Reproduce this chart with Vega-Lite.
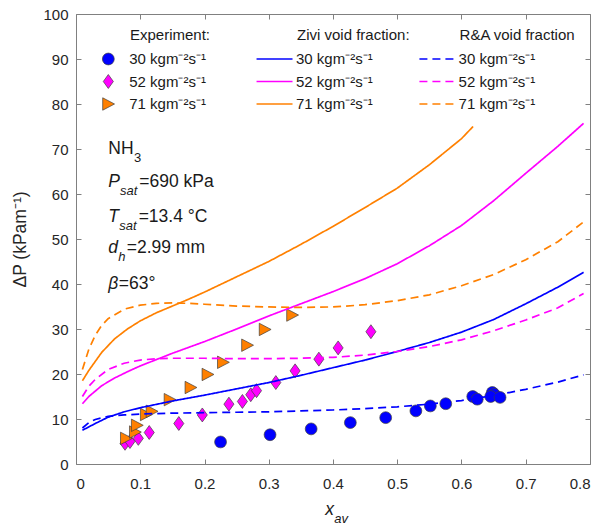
{
  "$schema": "https://vega.github.io/schema/vega-lite/v6.json",
  "width": 514,
  "height": 450,
  "autosize": {"type": "none"},
  "padding": {"left": 76, "top": 14, "right": 15, "bottom": 62},
  "background": "white",
  "config": {
    "font": "Liberation Sans",
    "view": {"stroke": "#808080", "strokeWidth": 1},
    "axis": {
      "domain": false, "grid": false, "tickColor": "#808080", "tickSize": -5, "tickWidth": 1,
      "labelColor": "#262626", "labelFontSize": 15, "labelFont": "Liberation Sans",
      "titleFont": "Liberation Sans", "titleFontSize": 17.5, "titleFontWeight": "normal", "titleColor": "#262626"
    }
  },
  "datasets": {
    "exp": [
      {"x": 0.225, "y": 4.9, "G": "30"}, {"x": 0.302, "y": 6.5, "G": "30"}, {"x": 0.366, "y": 7.8, "G": "30"},
      {"x": 0.427, "y": 9.2, "G": "30"}, {"x": 0.482, "y": 10.3, "G": "30"}, {"x": 0.529, "y": 11.8, "G": "30"},
      {"x": 0.5515, "y": 12.9, "G": "30"}, {"x": 0.5755, "y": 13.4, "G": "30"}, {"x": 0.6175, "y": 15.0, "G": "30"},
      {"x": 0.6245, "y": 14.4, "G": "30"}, {"x": 0.648, "y": 15.9, "G": "30"}, {"x": 0.651, "y": 15.5, "G": "30"},
      {"x": 0.6455, "y": 15.0, "G": "30"}, {"x": 0.66, "y": 14.8, "G": "30"},
      {"x": 0.0763, "y": 4.6, "G": "52"}, {"x": 0.084, "y": 5.0, "G": "52"}, {"x": 0.097, "y": 5.7, "G": "52"},
      {"x": 0.114, "y": 7.0, "G": "52"}, {"x": 0.160, "y": 9.0, "G": "52"}, {"x": 0.1966, "y": 10.9, "G": "52"},
      {"x": 0.238, "y": 13.3, "G": "52"}, {"x": 0.259, "y": 13.9, "G": "52"}, {"x": 0.272, "y": 15.4, "G": "52"},
      {"x": 0.281, "y": 16.3, "G": "52"}, {"x": 0.311, "y": 18.1, "G": "52"}, {"x": 0.341, "y": 20.7, "G": "52"},
      {"x": 0.378, "y": 23.3, "G": "52"}, {"x": 0.408, "y": 25.8, "G": "52"}, {"x": 0.459, "y": 29.4, "G": "52"},
      {"x": 0.078, "y": 5.7, "G": "71"}, {"x": 0.092, "y": 7.1, "G": "71"}, {"x": 0.095, "y": 8.6, "G": "71"},
      {"x": 0.109, "y": 11.0, "G": "71"}, {"x": 0.118, "y": 11.7, "G": "71"}, {"x": 0.146, "y": 14.3, "G": "71"},
      {"x": 0.1785, "y": 17.0, "G": "71"}, {"x": 0.205, "y": 19.9, "G": "71"}, {"x": 0.229, "y": 22.6, "G": "71"},
      {"x": 0.2666, "y": 26.4, "G": "71"}, {"x": 0.294, "y": 29.9, "G": "71"}, {"x": 0.3367, "y": 33.1, "G": "71"}
    ],
    "curves": [
      {"x": 0.01, "y": 7.5, "G": "30", "model": "Zivi"}, {"x": 0.03, "y": 9.0, "G": "30", "model": "Zivi"},
      {"x": 0.05, "y": 10.4, "G": "30", "model": "Zivi"}, {"x": 0.075, "y": 11.6, "G": "30", "model": "Zivi"},
      {"x": 0.1, "y": 12.5, "G": "30", "model": "Zivi"}, {"x": 0.15, "y": 14.0, "G": "30", "model": "Zivi"},
      {"x": 0.2, "y": 15.3, "G": "30", "model": "Zivi"}, {"x": 0.25, "y": 16.7, "G": "30", "model": "Zivi"},
      {"x": 0.3, "y": 18.1, "G": "30", "model": "Zivi"}, {"x": 0.35, "y": 19.7, "G": "30", "model": "Zivi"},
      {"x": 0.4, "y": 21.4, "G": "30", "model": "Zivi"}, {"x": 0.45, "y": 23.1, "G": "30", "model": "Zivi"},
      {"x": 0.5, "y": 25.0, "G": "30", "model": "Zivi"}, {"x": 0.55, "y": 27.0, "G": "30", "model": "Zivi"},
      {"x": 0.6, "y": 29.3, "G": "30", "model": "Zivi"}, {"x": 0.65, "y": 32.1, "G": "30", "model": "Zivi"},
      {"x": 0.7, "y": 35.6, "G": "30", "model": "Zivi"}, {"x": 0.75, "y": 39.3, "G": "30", "model": "Zivi"},
      {"x": 0.79, "y": 42.6, "G": "30", "model": "Zivi"},
      {"x": 0.01, "y": 13.4, "G": "52", "model": "Zivi"}, {"x": 0.02, "y": 15.0, "G": "52", "model": "Zivi"},
      {"x": 0.04, "y": 17.4, "G": "52", "model": "Zivi"}, {"x": 0.06, "y": 19.1, "G": "52", "model": "Zivi"},
      {"x": 0.08, "y": 20.5, "G": "52", "model": "Zivi"}, {"x": 0.1, "y": 21.8, "G": "52", "model": "Zivi"},
      {"x": 0.15, "y": 24.6, "G": "52", "model": "Zivi"}, {"x": 0.2, "y": 27.2, "G": "52", "model": "Zivi"},
      {"x": 0.25, "y": 30.0, "G": "52", "model": "Zivi"}, {"x": 0.3, "y": 32.9, "G": "52", "model": "Zivi"},
      {"x": 0.35, "y": 35.6, "G": "52", "model": "Zivi"}, {"x": 0.4, "y": 38.3, "G": "52", "model": "Zivi"},
      {"x": 0.45, "y": 41.2, "G": "52", "model": "Zivi"}, {"x": 0.5, "y": 44.5, "G": "52", "model": "Zivi"},
      {"x": 0.55, "y": 48.5, "G": "52", "model": "Zivi"}, {"x": 0.6, "y": 53.0, "G": "52", "model": "Zivi"},
      {"x": 0.65, "y": 58.5, "G": "52", "model": "Zivi"}, {"x": 0.7, "y": 64.6, "G": "52", "model": "Zivi"},
      {"x": 0.75, "y": 70.6, "G": "52", "model": "Zivi"}, {"x": 0.79, "y": 75.7, "G": "52", "model": "Zivi"},
      {"x": 0.01, "y": 18.5, "G": "71", "model": "Zivi"}, {"x": 0.02, "y": 20.8, "G": "71", "model": "Zivi"},
      {"x": 0.04, "y": 24.8, "G": "71", "model": "Zivi"}, {"x": 0.06, "y": 27.8, "G": "71", "model": "Zivi"},
      {"x": 0.08, "y": 30.0, "G": "71", "model": "Zivi"}, {"x": 0.1, "y": 31.8, "G": "71", "model": "Zivi"},
      {"x": 0.125, "y": 33.6, "G": "71", "model": "Zivi"}, {"x": 0.15, "y": 35.1, "G": "71", "model": "Zivi"},
      {"x": 0.175, "y": 36.6, "G": "71", "model": "Zivi"}, {"x": 0.2, "y": 38.2, "G": "71", "model": "Zivi"},
      {"x": 0.25, "y": 41.6, "G": "71", "model": "Zivi"}, {"x": 0.3, "y": 45.0, "G": "71", "model": "Zivi"},
      {"x": 0.35, "y": 48.8, "G": "71", "model": "Zivi"}, {"x": 0.4, "y": 52.8, "G": "71", "model": "Zivi"},
      {"x": 0.45, "y": 57.0, "G": "71", "model": "Zivi"}, {"x": 0.5, "y": 61.3, "G": "71", "model": "Zivi"},
      {"x": 0.55, "y": 66.5, "G": "71", "model": "Zivi"}, {"x": 0.6, "y": 72.3, "G": "71", "model": "Zivi"},
      {"x": 0.618, "y": 75.0, "G": "71", "model": "Zivi"},
      {"x": 0.01, "y": 8.0, "G": "30", "model": "RA"}, {"x": 0.02, "y": 9.2, "G": "30", "model": "RA"},
      {"x": 0.03, "y": 9.9, "G": "30", "model": "RA"}, {"x": 0.05, "y": 10.6, "G": "30", "model": "RA"},
      {"x": 0.075, "y": 10.9, "G": "30", "model": "RA"}, {"x": 0.1, "y": 11.1, "G": "30", "model": "RA"},
      {"x": 0.15, "y": 11.3, "G": "30", "model": "RA"}, {"x": 0.2, "y": 11.4, "G": "30", "model": "RA"},
      {"x": 0.25, "y": 11.5, "G": "30", "model": "RA"}, {"x": 0.3, "y": 11.6, "G": "30", "model": "RA"},
      {"x": 0.35, "y": 11.8, "G": "30", "model": "RA"}, {"x": 0.4, "y": 12.0, "G": "30", "model": "RA"},
      {"x": 0.45, "y": 12.3, "G": "30", "model": "RA"}, {"x": 0.5, "y": 12.7, "G": "30", "model": "RA"},
      {"x": 0.55, "y": 13.3, "G": "30", "model": "RA"}, {"x": 0.6, "y": 14.1, "G": "30", "model": "RA"},
      {"x": 0.65, "y": 15.2, "G": "30", "model": "RA"}, {"x": 0.7, "y": 16.6, "G": "30", "model": "RA"},
      {"x": 0.75, "y": 18.2, "G": "30", "model": "RA"}, {"x": 0.79, "y": 19.8, "G": "30", "model": "RA"},
      {"x": 0.01, "y": 15.0, "G": "52", "model": "RA"}, {"x": 0.02, "y": 17.3, "G": "52", "model": "RA"},
      {"x": 0.03, "y": 18.8, "G": "52", "model": "RA"}, {"x": 0.05, "y": 21.0, "G": "52", "model": "RA"},
      {"x": 0.075, "y": 22.4, "G": "52", "model": "RA"}, {"x": 0.1, "y": 23.1, "G": "52", "model": "RA"},
      {"x": 0.125, "y": 23.4, "G": "52", "model": "RA"}, {"x": 0.15, "y": 23.5, "G": "52", "model": "RA"},
      {"x": 0.2, "y": 23.5, "G": "52", "model": "RA"}, {"x": 0.25, "y": 23.4, "G": "52", "model": "RA"},
      {"x": 0.3, "y": 23.4, "G": "52", "model": "RA"}, {"x": 0.35, "y": 23.5, "G": "52", "model": "RA"},
      {"x": 0.4, "y": 23.7, "G": "52", "model": "RA"}, {"x": 0.45, "y": 24.2, "G": "52", "model": "RA"},
      {"x": 0.5, "y": 25.0, "G": "52", "model": "RA"}, {"x": 0.55, "y": 26.1, "G": "52", "model": "RA"},
      {"x": 0.6, "y": 27.6, "G": "52", "model": "RA"}, {"x": 0.65, "y": 29.6, "G": "52", "model": "RA"},
      {"x": 0.7, "y": 32.0, "G": "52", "model": "RA"}, {"x": 0.75, "y": 34.7, "G": "52", "model": "RA"},
      {"x": 0.79, "y": 37.9, "G": "52", "model": "RA"},
      {"x": 0.01, "y": 21.0, "G": "71", "model": "RA"}, {"x": 0.02, "y": 25.5, "G": "71", "model": "RA"},
      {"x": 0.03, "y": 28.6, "G": "71", "model": "RA"}, {"x": 0.04, "y": 30.8, "G": "71", "model": "RA"},
      {"x": 0.05, "y": 32.3, "G": "71", "model": "RA"}, {"x": 0.075, "y": 34.4, "G": "71", "model": "RA"},
      {"x": 0.1, "y": 35.3, "G": "71", "model": "RA"}, {"x": 0.125, "y": 35.7, "G": "71", "model": "RA"},
      {"x": 0.15, "y": 35.8, "G": "71", "model": "RA"}, {"x": 0.175, "y": 35.7, "G": "71", "model": "RA"},
      {"x": 0.2, "y": 35.5, "G": "71", "model": "RA"}, {"x": 0.25, "y": 35.1, "G": "71", "model": "RA"},
      {"x": 0.3, "y": 34.9, "G": "71", "model": "RA"}, {"x": 0.35, "y": 34.8, "G": "71", "model": "RA"},
      {"x": 0.4, "y": 34.9, "G": "71", "model": "RA"}, {"x": 0.45, "y": 35.4, "G": "71", "model": "RA"},
      {"x": 0.5, "y": 36.3, "G": "71", "model": "RA"}, {"x": 0.55, "y": 37.6, "G": "71", "model": "RA"},
      {"x": 0.6, "y": 39.6, "G": "71", "model": "RA"}, {"x": 0.65, "y": 42.1, "G": "71", "model": "RA"},
      {"x": 0.7, "y": 45.4, "G": "71", "model": "RA"}, {"x": 0.75, "y": 49.4, "G": "71", "model": "RA"},
      {"x": 0.79, "y": 53.8, "G": "71", "model": "RA"}
    ],
    "legLines": [
      {"x": 0.281, "y": 90, "G": "30", "model": "Zivi"}, {"x": 0.337, "y": 90, "G": "30", "model": "Zivi"},
      {"x": 0.281, "y": 85, "G": "52", "model": "Zivi"}, {"x": 0.337, "y": 85, "G": "52", "model": "Zivi"},
      {"x": 0.281, "y": 80, "G": "71", "model": "Zivi"}, {"x": 0.337, "y": 80, "G": "71", "model": "Zivi"},
      {"x": 0.5345, "y": 90, "G": "30", "model": "RA"}, {"x": 0.59, "y": 90, "G": "30", "model": "RA"},
      {"x": 0.5345, "y": 85, "G": "52", "model": "RA"}, {"x": 0.59, "y": 85, "G": "52", "model": "RA"},
      {"x": 0.5345, "y": 80, "G": "71", "model": "RA"}, {"x": 0.59, "y": 80, "G": "71", "model": "RA"}
    ],
    "legPts": [
      {"x": 0.0503, "y": 90, "G": "30"}, {"x": 0.0503, "y": 85, "G": "52"}, {"x": 0.0503, "y": 80, "G": "71"}
    ],
    "legText": [
      {"x": 0.084, "y": 95.3, "text": "Experiment:"},
      {"x": 0.344, "y": 95.3, "text": "Zivi void fraction:"},
      {"x": 0.597, "y": 95.3, "text": "R&A void fraction"},
      {"x": 0.0828, "y": 90, "text": "30 kgm⁻²s⁻¹"}, {"x": 0.0828, "y": 85, "text": "52 kgm⁻²s⁻¹"}, {"x": 0.0828, "y": 80, "text": "71 kgm⁻²s⁻¹"},
      {"x": 0.3424, "y": 90, "text": "30 kgm⁻²s⁻¹"}, {"x": 0.3424, "y": 85, "text": "52 kgm⁻²s⁻¹"}, {"x": 0.3424, "y": 80, "text": "71 kgm⁻²s⁻¹"},
      {"x": 0.5955, "y": 90, "text": "30 kgm⁻²s⁻¹"}, {"x": 0.5955, "y": 85, "text": "52 kgm⁻²s⁻¹"}, {"x": 0.5955, "y": 80, "text": "71 kgm⁻²s⁻¹"}
    ],
    "annot": [
      {"x": 0.0503, "y": 70.0, "text": "NH", "kind": "main"},
      {"x": 0.0985, "y": 62.7, "text": "=690 kPa", "kind": "main"},
      {"x": 0.0975, "y": 54.9, "text": "=13.4 °C", "kind": "main"},
      {"x": 0.0789, "y": 48.0, "text": "=2.99 mm", "kind": "main"},
      {"x": 0.0665, "y": 40.0, "text": "=63°", "kind": "main"},
      {"x": 0.0903, "y": 70.0, "text": "3", "kind": "sub"},
      {"x": 0.0503, "y": 62.7, "text": "P", "kind": "it"},
      {"x": 0.0503, "y": 54.9, "text": "T", "kind": "it"},
      {"x": 0.0503, "y": 48.0, "text": "d", "kind": "it"},
      {"x": 0.0503, "y": 40.0, "text": "β", "kind": "it"},
      {"x": 0.388, "y": -10.3, "text": "x", "kind": "it"},
      {"x": 0.0685, "y": 62.7, "text": "sat", "kind": "subit"},
      {"x": 0.0674, "y": 54.9, "text": "sat", "kind": "subit"},
      {"x": 0.0658, "y": 48.0, "text": "h", "kind": "subit"},
      {"x": 0.402, "y": -10.3, "text": "av", "kind": "subit"}
    ]
  },
  "resolve": {"axis": {"x": "independent", "y": "independent"}},
  "layer": [
    {
      "data": {"name": "exp"},
      "mark": {"type": "point", "filled": true, "stroke": "#404040", "strokeWidth": 0.7, "size": 140, "opacity": 1},
      "encoding": {
        "x": {"field": "x", "type": "quantitative", "scale": {"domain": [0, 0.8], "nice": false, "zero": false},
              "axis": {"orient": "bottom", "values": [0, 0.1, 0.2, 0.3, 0.4, 0.5, 0.6, 0.7, 0.8], "format": ".1~f", "title": null, "labelPadding": 17}},
        "y": {"field": "y", "type": "quantitative", "scale": {"domain": [0, 100], "nice": false},
              "axis": {"orient": "left", "values": [0, 10, 20, 30, 40, 50, 60, 70, 80, 90, 100], "title": "ΔP (kPam⁻¹)", "labelPadding": 13, "titlePadding": 13}},
        "shape": {"field": "G", "type": "nominal", "legend": null,
                  "scale": {"domain": ["30", "52", "71"], "range": ["circle", "M0,-1.18L0.85,0L0,1.18L-0.85,0Z", "M-0.95,-1.05L1.05,0L-0.95,1.05Z"]}},
        "fill": {"field": "G", "type": "nominal", "legend": null,
                 "scale": {"domain": ["30", "52", "71"], "range": ["#0000ff", "#ff00ff", "#ff8000"]}}
      }
    },
    {
      "data": {"name": "curves"},
      "mark": {"type": "line", "strokeWidth": 1.7},
      "encoding": {
        "x": {"field": "x", "type": "quantitative", "axis": null},
        "y": {"field": "y", "type": "quantitative", "axis": null},
        "color": {"field": "G", "type": "nominal", "legend": null,
                  "scale": {"domain": ["30", "52", "71"], "range": ["#0000ff", "#ff00ff", "#ff8000"]}},
        "strokeDash": {"field": "model", "type": "nominal", "legend": null,
                       "scale": {"domain": ["Zivi", "RA"], "range": [[1, 0], [8, 5]]}}
      }
    },
    {
      "data": {"name": "legLines"},
      "mark": {"type": "line", "strokeWidth": 1.7},
      "encoding": {
        "x": {"field": "x", "type": "quantitative", "axis": null},
        "y": {"field": "y", "type": "quantitative", "axis": null},
        "color": {"field": "G", "type": "nominal", "legend": null},
        "strokeDash": {"field": "model", "type": "nominal", "legend": null}
      }
    },
    {
      "data": {"name": "legPts"},
      "mark": {"type": "point", "filled": true, "stroke": "#404040", "strokeWidth": 0.7, "size": 140, "opacity": 1},
      "encoding": {
        "x": {"field": "x", "type": "quantitative", "axis": null},
        "y": {"field": "y", "type": "quantitative", "axis": null},
        "shape": {"field": "G", "type": "nominal", "legend": null},
        "fill": {"field": "G", "type": "nominal", "legend": null}
      }
    },
    {
      "data": {"name": "legText"},
      "mark": {"type": "text", "align": "left", "baseline": "middle", "fontSize": 15, "color": "#1a1a1a", "font": "Liberation Sans"},
      "encoding": {
        "x": {"field": "x", "type": "quantitative", "axis": null},
        "y": {"field": "y", "type": "quantitative", "axis": null},
        "text": {"field": "text"}
      }
    },
    {
      "data": {"name": "annot"},
      "transform": [{"filter": "datum.kind === 'main'"}],
      "mark": {"type": "text", "align": "left", "baseline": "middle", "fontSize": 17.5, "color": "#1a1a1a", "font": "Liberation Sans"},
      "encoding": {
        "x": {"field": "x", "type": "quantitative", "axis": null},
        "y": {"field": "y", "type": "quantitative", "axis": null},
        "text": {"field": "text"}
      }
    },
    {
      "data": {"name": "annot"},
      "transform": [{"filter": "datum.kind === 'it'"}],
      "mark": {"type": "text", "align": "left", "baseline": "middle", "fontSize": 17.5, "fontStyle": "italic", "color": "#1a1a1a", "font": "Liberation Sans"},
      "encoding": {
        "x": {"field": "x", "type": "quantitative", "axis": null},
        "y": {"field": "y", "type": "quantitative", "axis": null},
        "text": {"field": "text"}
      }
    },
    {
      "data": {"name": "annot"},
      "transform": [{"filter": "datum.kind === 'sub'"}],
      "mark": {"type": "text", "align": "left", "baseline": "middle", "fontSize": 13, "dy": 9, "color": "#1a1a1a", "font": "Liberation Sans"},
      "encoding": {
        "x": {"field": "x", "type": "quantitative", "axis": null},
        "y": {"field": "y", "type": "quantitative", "axis": null},
        "text": {"field": "text"}
      }
    },
    {
      "data": {"name": "annot"},
      "transform": [{"filter": "datum.kind === 'subit'"}],
      "mark": {"type": "text", "align": "left", "baseline": "middle", "fontSize": 13, "fontStyle": "italic", "dy": 9, "color": "#1a1a1a", "font": "Liberation Sans"},
      "encoding": {
        "x": {"field": "x", "type": "quantitative", "axis": null},
        "y": {"field": "y", "type": "quantitative", "axis": null},
        "text": {"field": "text"}
      }
    },
    {
      "data": {"name": "legPts"},
      "mark": {"type": "point", "opacity": 0},
      "encoding": {
        "x": {"field": "x", "type": "quantitative",
              "axis": {"orient": "top", "values": [0, 0.1, 0.2, 0.3, 0.4, 0.5, 0.6, 0.7, 0.8], "labels": false, "title": null}},
        "y": {"field": "y", "type": "quantitative",
              "axis": {"orient": "right", "values": [0, 10, 20, 30, 40, 50, 60, 70, 80, 90, 100], "labels": false, "title": null}}
      }
    }
  ]
}
